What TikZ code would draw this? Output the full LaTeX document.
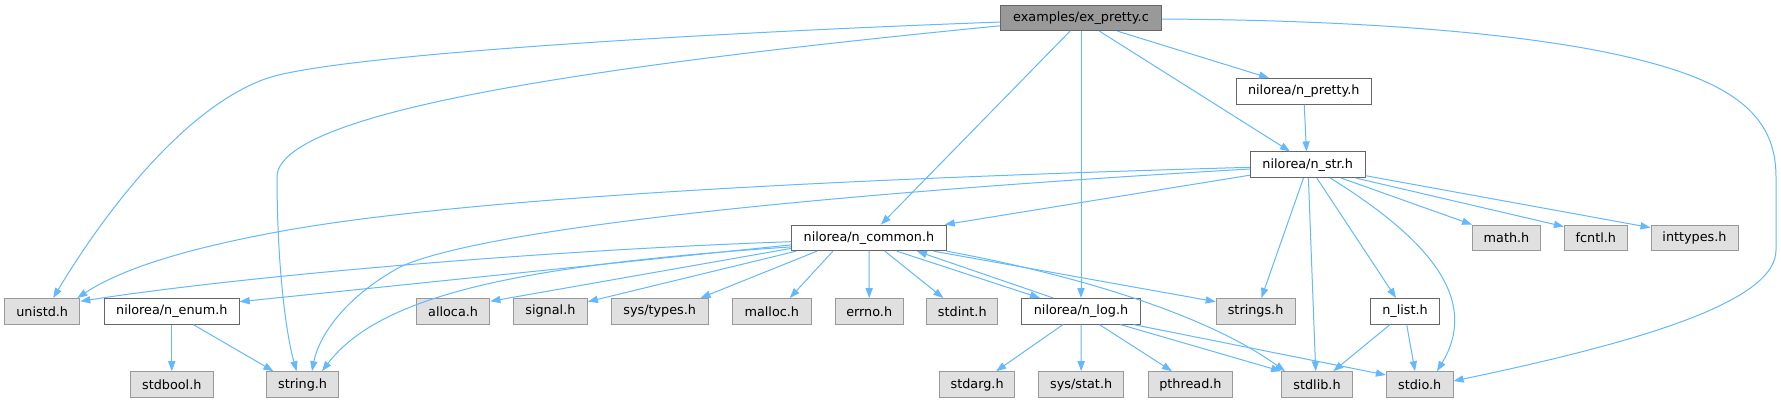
\documentclass[tikz,border=0pt]{standalone}
\usepackage{fontspec}
\setmainfont{DejaVu Sans}
\usetikzlibrary{arrows.meta,calc}
\definecolor{edgec}{HTML}{63B8FF}
\definecolor{mainfill}{HTML}{999999}
\definecolor{mainbord}{HTML}{666666}
\definecolor{greyfill}{HTML}{E0E0E0}
\definecolor{greybord}{HTML}{999999}
\begin{document}
\begin{tikzpicture}[x=0.75pt,y=-0.75pt,
 box/.style={rectangle, inner sep=0pt, minimum height=25.6*0.75pt, font=\fontsize{9.6}{11}\selectfont, line width=0.75pt},
 mainbox/.style={box, fill=mainfill, draw=mainbord},
 wbox/.style={box, fill=white, draw=mainbord},
 gbox/.style={box, fill=greyfill, draw=greybord},
 bw/.style={minimum width=#1*0.75pt},
 edge/.style={draw=edgec, line width=0.75pt, -{Triangle[length=7.5pt,width=5.4pt]}}
]
\useasboundingbox[fill=white] (0,0) rectangle (1781,403);

% nodes
\node[mainbox,bw=161.4] (ex) at (1081,17.85) {examples/ex\_pretty.c};
\node[wbox,bw=134.8] (pretty) at (1303.8,91.3) {nilorea/n\_pretty.h};
\node[wbox,bw=114.7] (str) at (1307.7,164.7) {nilorea/n\_str.h};
\node[wbox,bw=154.7] (common) at (868.9,237.9) {nilorea/n\_common.h};
\node[gbox,bw=68] (math) at (1506.5,237.9) {math.h};
\node[gbox,bw=62.8] (fcntl) at (1595.8,237.9) {fcntl.h};
\node[gbox,bw=87] (inttypes) at (1694.5,237.9) {inttypes.h};
\node[gbox,bw=75.2] (unistd) at (42.2,311.3) {unistd.h};
\node[wbox,bw=134.8] (enum) at (171.8,311.3) {nilorea/n\_enum.h};
\node[gbox,bw=73.6] (alloca) at (453.1,311.3) {alloca.h};
\node[gbox,bw=74] (signal) at (550.4,311.3) {signal.h};
\node[gbox,bw=96.6] (systypes) at (659.7,311.3) {sys/types.h};
\node[gbox,bw=78.8] (malloc) at (771.8,311.3) {malloc.h};
\node[gbox,bw=68.4] (errno) at (869.2,311.3) {errno.h};
\node[gbox,bw=71.1] (stdint) at (962.3,311.3) {stdint.h};
\node[wbox,bw=119] (log) at (1081,311.3) {nilorea/n\_log.h};
\node[gbox,bw=78.8] (strings) at (1255.6,311.3) {strings.h};
\node[wbox,bw=69.6] (list) at (1405,311.3) {n\_list.h};
\node[gbox,bw=82.7] (stdbool) at (171.8,384.5) {stdbool.h};
\node[gbox,bw=71.3] (string) at (302.6,384.5) {string.h};
\node[gbox,bw=75.4] (stdarg) at (977.1,384.5) {stdarg.h};
\node[gbox,bw=85.4] (sysstat) at (1081.2,384.5) {sys/stat.h};
\node[gbox,bw=84.2] (pthread) at (1190.4,384.5) {pthread.h};
\node[gbox,bw=70.7] (stdlib) at (1317,384.5) {stdlib.h};
\node[gbox,bw=66.7] (stdio) at (1419.7,384.5) {stdio.h};

% edges from examples/ex_pretty.c
\draw[edge] ($(ex.west)+(0,4.2)$) .. controls (700,33) and (330,55) .. (265,79) .. controls (180,110) and (100,220) .. ($(unistd.north)+(11,0)$);
\draw[edge] ($(ex.west)+(0,8)$) .. controls (600,65) and (285,110) .. (277,175) .. controls (277,260) and (285,330) .. ($(string.north)+(-6,0)$);
\draw[edge] ($(ex.south)+(-11,0)$) -- ($(common.north)+(12,0)$);
\draw[edge] (ex.south) -- (log.north);
\draw[edge] ($(ex.south)+(18.4,0)$) -- ($(str.north)+(-17.7,0)$);
\draw[edge] ($(ex.south)+(36.4,0)$) -- ($(pretty.north)+(-34.8,0)$);
\draw[edge] ($(ex.east)+(0,1.2)$) .. controls (1350,20) and (1530,32) .. (1640,60) .. controls (1740,85) and (1776,120) .. (1776,177) -- (1776,250) .. controls (1776,300) and (1650,340) .. ($(stdio.east)+(0,-3.5)$);

% n_pretty
\draw[edge] ($(pretty.south)+(0.4,0)$) -- ($(str.north)+(-1.2,0)$);

% n_str
\draw[edge] ($(str.west)+(0,2.6)$) .. controls (800,180) and (450,200) .. (277,232) .. controls (180,250) and (120,270) .. ($(unistd.north)+(35,0)$);
\draw[edge] ($(str.west)+(0,4.3)$) .. controls (800,195) and (480,230) .. (400,267) .. controls (340,300) and (318,340) .. ($(string.north)+(9.4,0)$);
\draw[edge] ($(str.west)+(0,10.5)$) -- ($(common.north east)+(-2,0)$);
\draw[edge] ($(str.south)+(-4.2,0)$) -- ($(strings.north)+(5.8,0)$);
\draw[edge] ($(str.south)+(0.7,0)$) -- ($(stdlib.north)+(-1.3,0)$);
\draw[edge] ($(str.south)+(9.1,0)$) -- ($(list.north)+(-9,0)$);
\draw[edge] ($(str.south)+(22.5,0)$) .. controls (1430,240) and (1480,300) .. ($(stdio.north)+(17.3,0)$);
\draw[edge] ($(str.south)+(33.3,0)$) -- (math.north west);
\draw[edge] ($(str.south east)+(-10,0)$) -- ($(fcntl.north west)+(0,2)$);
\draw[edge] ($(str.east)+(0,11)$) -- ($(inttypes.north west)+(0,3)$);

% n_common
\draw[edge] ($(common.west)+(0,3.8)$) .. controls (550,250) and (250,275) .. ($(unistd.east)+(0,-10)$);
\draw[edge] ($(common.west)+(0,7)$) -- ($(enum.east)+(0,-9.6)$);
\draw[edge] ($(common.west)+(0,9)$) .. controls (520,265) and (380,295) .. ($(string.north)+(19.4,0)$);
\draw[edge] ($(common.west)+(0,10.5)$) -- ($(alloca.east)+(0,-10)$);
\draw[edge] ($(common.south west)+(5,0)$) -- ($(signal.east)+(0,-9.6)$);
\draw[edge] ($(common.south)+(-52,0)$) -- ($(systypes.north east)+(-8,0)$);
\draw[edge] ($(common.south)+(-36,0)$) -- ($(malloc.north)+(18,0)$);
\draw[edge] ($(common.south)+(0.3,0)$) -- (errno.north);
\draw[edge] ($(common.south)+(16,0)$) -- ($(stdint.north)+(-19,0)$);
\draw[edge] ($(common.south)+(28,0)$) -- ($(log.north)+(-41,0)$);
\draw[edge] ($(common.south east)+(-13,0)$) -- ($(strings.west)+(0,-9.6)$);
\draw[edge] (common.south east) .. controls (1060,272) and (1200,310) .. ($(stdlib.north)+(-32,0)$);

% n_log
\draw[edge] ($(log.north)+(-27.7,0)$) -- ($(common.south)+(48,0)$);
\draw[edge] ($(log.south)+(-18,0)$) -- ($(stdarg.north)+(19,0)$);
\draw[edge] (log.south) -- (sysstat.north);
\draw[edge] ($(log.south)+(18.4,0)$) -- ($(pthread.north)+(-18.4,0)$);
\draw[edge] ($(log.south east)+(-20.5,0)$) -- (stdlib.north west);
\draw[edge] ($(log.south east)+(-7.5,0)$) -- ($(stdio.west)+(0,-9.5)$);

% n_enum
\draw[edge] (enum.south) -- (stdbool.north);
\draw[edge] ($(enum.south)+(21.5,0)$) -- ($(string.north west)+(7,0)$);

% n_list
\draw[edge] ($(list.south)+(-15,0)$) -- ($(stdlib.north)+(16.3,0)$);
\draw[edge] ($(list.south)+(1.7,0)$) -- ($(stdio.north)+(-4.7,0)$);
\end{tikzpicture}
\end{document}
